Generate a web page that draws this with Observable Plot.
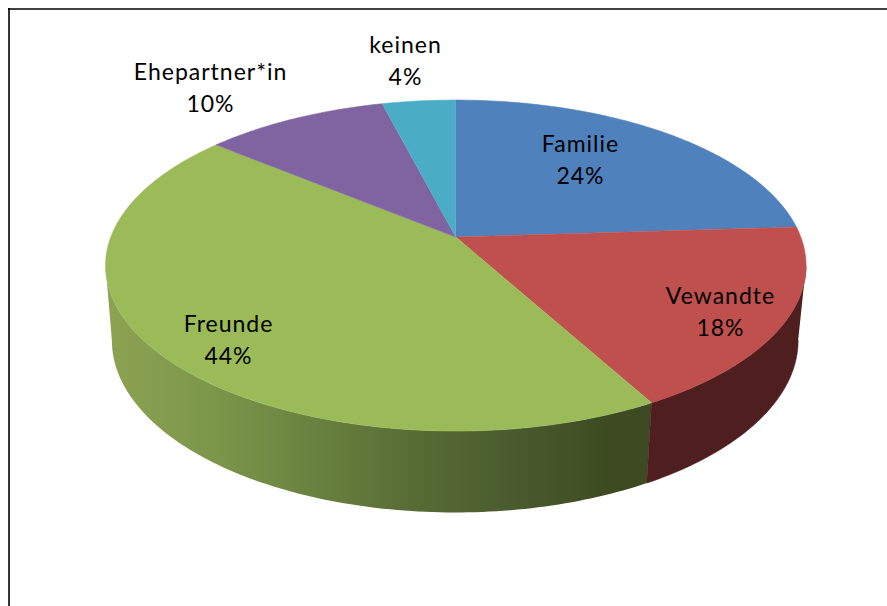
<!DOCTYPE html>
<html lang="de">
<head>
<meta charset="utf-8">
<script src="https://cdn.jsdelivr.net/npm/d3@7"></script>
<script src="https://cdn.jsdelivr.net/npm/@observablehq/plot@0.6"></script>
<style>
  html, body { margin: 0; padding: 0; background: #fff; overflow: hidden; }
  svg { display: block; }
  svg text { letter-spacing: 1px; }
</style>
</head>
<body>
<script>
// Chart values
const categories = ["Familie", "Vewandte", "Freunde", "Ehepartner*in", "keinen"];
const percents = [24, 18, 44, 10, 4];
const topColors = ["#4f81bd", "#c0504d", "#9bbb59", "#8064a2", "#4bacc6"];

// Label placement (layout, in the picture's own units)
const labelX = [580, 720, 228, 210, 405];
const labelY = [157, 309, 337, 85, 58];

// Perspective of the tilted disc
const persp = -0.172;
const topRim = {cx: 455.3, cy: 236.6, a: 345, b: 160.6};
const bottomRim = {cx: 454.5, cy: 310.4, a: 338, b: 166.9};
const rad = (deg) => (deg * Math.PI) / 180;
function project(rim, deg) {
  const X = Math.sin(rad(deg));
  const Y = -Math.cos(rad(deg));
  const w = 1 + persp * Y;
  return {x: rim.cx + (rim.a * X) / w, y: rim.cy + (rim.b * Y) / w};
}
function arc(rim, from, to) {
  const n = Math.max(2, Math.ceil(Math.abs(to - from)));
  return d3.range(n + 1).map((i) => project(rim, from + ((to - from) * i) / n));
}

// Slice angles come from the percentages, clockwise from 12 o'clock
const ends = d3.cumsum(percents).map((v) => (v / d3.sum(percents)) * 360);
const starts = ends.map((_, i) => (i ? ends[i - 1] : 0));

const apex = {x: topRim.cx, y: topRim.cy};
const topSlices = categories.map((_, i) => [apex, ...arc(topRim, starts[i], ends[i])]);

// Visible wall: between the two silhouette points of the disc
const wallFrom = 99.9;
const wallTo = 260.1;
const wall = (from, to) => [...arc(topRim, from, to), ...arc(bottomRim, to, from)];
const redWall = wall(wallFrom, ends[1]);
const greenWall = wall(ends[1], wallTo);

const labels = categories.map((name, i) => ({
  text: `${name}\n${percents[i]}%`,
  x: labelX[i],
  y: labelY[i]
}));

const gradientStops = [
  [0, "#8ca352"], [0.2, "#7c964a"], [0.38, "#6a823f"], [0.58, "#566a34"],
  [0.78, "#47592c"], [0.92, "#3e4b22"], [1, "#3e4b22"]
];

function gradientDefs() {
  const ns = "http://www.w3.org/2000/svg";
  const defs = document.createElementNS(ns, "defs");
  const g = document.createElementNS(ns, "linearGradient");
  g.setAttribute("id", "wallGreen");
  g.setAttribute("gradientUnits", "userSpaceOnUse");
  g.setAttribute("x1", 105);
  g.setAttribute("x2", 650);
  g.setAttribute("y1", 0);
  g.setAttribute("y2", 0);
  for (const [o, c] of gradientStops) {
    const s = document.createElementNS(ns, "stop");
    s.setAttribute("offset", o);
    s.setAttribute("stop-color", c);
    g.appendChild(s);
  }
  defs.appendChild(g);
  return defs;
}

const poly = (pts, fill, stroke) =>
  Plot.line(pts, {x: "x", y: "y", curve: "linear", fill, stroke: stroke || fill, strokeWidth: 0.6});

const chart = Plot.plot({
  width: 887,
  height: 606,
  margin: 0,
  style: {background: "#fff"},
  x: {domain: [0, 887], range: [0, 887], axis: null},
  y: {domain: [0, 606], range: [0, 606], axis: null},
  marks: [
    gradientDefs,
    Plot.ruleY([8.5], {x1: 8, x2: 887, stroke: "#000", strokeWidth: 1.6}),
    Plot.ruleX([8.5], {y1: 8, y2: 606, stroke: "#000", strokeWidth: 1.6}),
    poly(greenWall, "url(#wallGreen)", "none"),
    poly(redWall, "#4e1f1e"),
    ...topSlices.map((pts, i) => poly(pts, topColors[i])),
    Plot.text(labels, {
      x: "x",
      y: "y",
      text: "text",
      fontFamily: "Lato, 'Open Sans', sans-serif",
      fontSize: 23,
      lineHeight: 1.39,
      lineAnchor: "middle",
      fill: "#000",
      stroke: "none"
    })
  ]
});
document.body.appendChild(chart);
</script>
</body>
</html>
